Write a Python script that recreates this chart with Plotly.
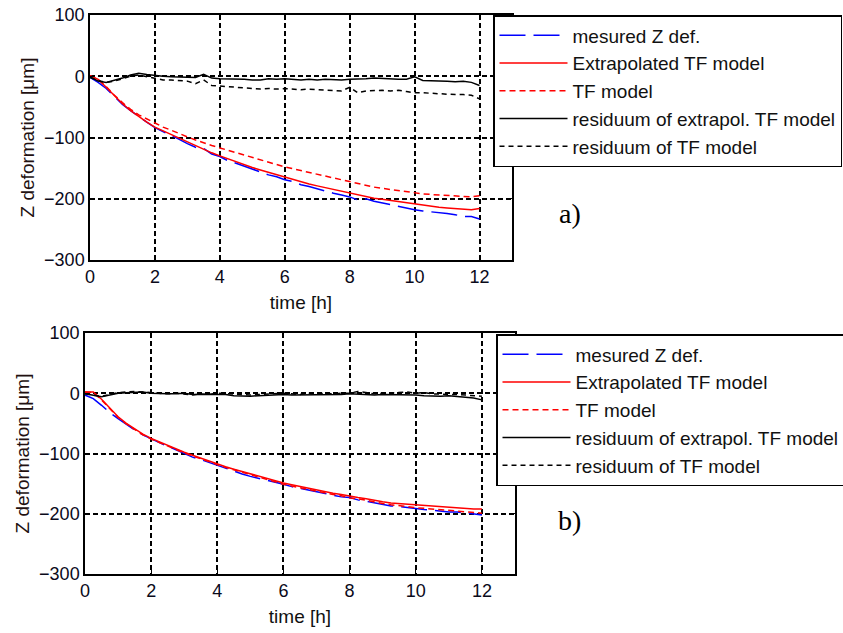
import plotly.graph_objects as go

# ---------------- data ----------------
time_h = [0.0, 0.25, 0.5, 0.75, 1.0, 1.25, 1.5, 1.75, 2.0, 2.25, 2.5, 2.75,
          3.0, 3.25, 3.5, 3.75, 4.0, 4.25, 4.5, 4.75, 5.0, 5.25, 5.5, 5.75,
          6.0, 6.25, 6.5, 6.75, 7.0, 7.25, 7.5, 7.75, 8.0, 8.25, 8.5, 8.75,
          9.0, 9.25, 9.5, 9.75, 10.0, 10.25, 10.5, 10.75, 11.0, 11.25, 11.5, 11.75, 12.0]

# panel a)
measured_a = [-2, -10, -20, -33, -46, -56, -66, -75, -84, -90, -96, -103,
              -110, -116, -118, -127, -131, -138, -142, -147, -152, -156, -161, -164,
              -169, -172, -177, -180, -184, -187, -191, -194, -197, -202, -200, -204,
              -207, -210, -213, -215, -218, -220, -221, -222, -224, -226, -229, -229, -233]
extrap_a = [1, -5, -18, -32, -45, -56, -66, -75, -83, -89, -95, -101,
            -108, -114, -120, -125, -130, -135, -140, -144, -149, -153, -157, -161,
            -165, -169, -172, -176, -179, -182, -185, -188, -191, -194, -197, -199,
            -201, -203, -205, -207, -209, -211, -212, -214, -215, -216, -217, -218, -216]
tf_a = [1, -5, -17, -31, -43, -54, -63, -70, -77, -83, -88, -94,
        -99, -104, -109, -113, -117, -121, -125, -129, -133, -136, -140, -144,
        -148, -151, -154, -157, -161, -164, -167, -170, -173, -176, -178, -181,
        -183, -185, -187, -189, -191, -192, -193, -194, -195, -196, -197, -197, -195]
res_extrap_a = [-1, -8, -10, -7, -3, 2, 5, 3, 1, 0, -1, -1,
                -1, -2, 3, -3, -4, -4, -5, -5, -6, -6, -4, -5,
                -4, -5, -6, -5, -6, -5, -6, -6, -5, -5, -4, -3,
                -4, -4, -5, -5, -1, -7, -7, -8, -8, -9, -8, -10, -15]
res_tf_a = [-2, -7, -10, -8, -4, 0, 2, -1, -4, -6, -6, -7,
            -8, -12, -6, -15, -16, -17, -19, -19, -20, -21, -20, -21,
            -20, -21, -22, -21, -22, -23, -24, -24, -18, -27, -24, -23,
            -23, -24, -23, -25, -27, -27, -28, -29, -29, -30, -30, -31, -37]

# panel b)
measured_b = [-3, -9, -20, -32, -42, -52, -61, -69, -76, -82, -88, -94,
              -99, -106, -110, -115, -120, -124, -129, -134, -138, -141, -145, -148,
              -151, -155, -158, -161, -164, -167, -170, -172, -173, -177, -179, -182,
              -184, -187, -188, -190, -192, -193, -194, -196, -197, -197, -199, -200, -202]
extrap_b = [2, 2, -10, -25, -39, -50, -59, -68, -75, -81, -87, -93,
            -98, -103, -108, -113, -117, -122, -126, -130, -134, -138, -142, -146,
            -149, -152, -155, -158, -161, -164, -166, -168, -171, -173, -175, -178,
            -180, -182, -183, -185, -186, -187, -188, -189, -190, -191, -191, -192, -192]
tf_b = [2, 1, -11, -26, -40, -51, -60, -69, -76, -82, -88, -94,
        -99, -104, -109, -114, -118, -123, -127, -131, -136, -140, -143, -147,
        -151, -154, -157, -160, -163, -166, -168, -170, -174, -175, -178, -180,
        -183, -185, -187, -188, -190, -191, -192, -194, -195, -196, -197, -198, -199]
res_extrap_b = [-1, -4, -6, -3, 0, 1, 2, 2, 0, -1, -1, -1,
                0, -2, -2, -3, -2, -2, -4, -5, -5, -4, -3, -3,
                -2, -3, -3, -3, -2, -2, -2, -2, -1, -2, -3, -3,
                -2, -2, -3, -2, -3, -4, -5, -5, -4, -5, -6, -8, -11]
res_tf_b = [-1, -3, -5, -2, 1, 2, 3, 2, 1, 0, -1, 0,
            -1, -3, -1, -2, 0, -1, -2, -3, -3, -2, -1, -1,
            0, -1, -2, 0, -1, 0, -1, 0, 0, 3, 1, -1,
            0, 1, 1, 2, 0, 1, -1, -2, -2, -2, -3, -4, -5]

series_names = ["mesured Z def.", "Extrapolated TF model", "TF model",
                "residuum of extrapol. TF model", "residuum of TF model"]
series_colors = ["#0000FF", "#FF0000", "#FF0000", "#000000", "#000000"]
series_dash = ["26px,8px", "solid", "6px,4px", "solid", "5px,4px"]

x_ticks = [0, 2, 4, 6, 8, 10, 12]
y_ticks = [-300, -200, -100, 0, 100]
panel_labels = ["a)", "b)"]

# ---------------- figure ----------------
fig = go.Figure()

panels = [
    ([measured_a, extrap_a, tf_a, res_extrap_a, res_tf_a], "x", "y", "legend"),
    ([measured_b, extrap_b, tf_b, res_extrap_b, res_tf_b], "x2", "y2", "legend2"),
]
for vals, xa, ya, lg in panels:
    for name, v, c, d in zip(series_names, vals, series_colors, series_dash):
        fig.add_trace(go.Scatter(
            x=time_h, y=v, name=name, mode="lines", xaxis=xa, yaxis=ya,
            legend=lg, line=dict(color=c, width=1.5, dash=d)))

W, H = 843, 633
FONT = "Liberation Sans, Arial, sans-serif"
SERIF = "Liberation Serif, Times New Roman, serif"

def xdom(l, r):
    return [l / W, r / W]

def ydom(top, bottom):
    return [1 - bottom / H, 1 - top / H]

axis_common = dict(
    showline=True, linecolor="black", linewidth=1.5, mirror="allticks",
    ticks="inside", ticklen=4, tickcolor="black",
    showgrid=True, gridcolor="black", gridwidth=1.5, griddash="5px,3px",
    zeroline=False, tickfont=dict(family=FONT, size=18, color="#0a0a1a"),
)

x_common = dict(axis_common, range=[0, 13], tickvals=x_ticks,
                title=dict(text="time [h]", font=dict(family=FONT, size=19, color="#111"), standoff=9))
y_common = dict(axis_common, range=[-300, 100], tickvals=y_ticks,
                title=dict(text="Z deformation [μm]", font=dict(family=FONT, size=19, color="#221010"), standoff=4))

legend_common = dict(
    bgcolor="white", bordercolor="black", borderwidth=1.5,
    font=dict(family=FONT, size=19, color="#111"),
    xanchor="left", yanchor="top", itemwidth=68, tracegroupgap=0,
)

fig.update_layout(
    width=W, height=H,
    margin=dict(l=0, r=0, t=0, b=0, autoexpand=False),
    paper_bgcolor="white", plot_bgcolor="white",
    xaxis=dict(x_common, domain=xdom(90, 512), anchor="y"),
    yaxis=dict(y_common, domain=ydom(15, 260), anchor="x"),
    xaxis2=dict(x_common, domain=xdom(85, 515), anchor="y2"),
    yaxis2=dict(y_common, domain=ydom(333, 574), anchor="x2"),
    legend=dict(legend_common, x=493 / W, y=1 - 15 / H),
    legend2=dict(legend_common, x=496 / W, y=1 - 334 / H),
    annotations=[
        dict(text=panel_labels[0], x=583 / W, y=1 - 214 / H, xref="paper", yref="paper",
             showarrow=False, font=dict(family=SERIF, size=28, color="black")),
        dict(text=panel_labels[1], x=583 / W, y=1 - 538 / H, xref="paper", yref="paper",
             showarrow=False, font=dict(family=SERIF, size=28, color="black")),
    ],
)

fig.write_html("out.html")
